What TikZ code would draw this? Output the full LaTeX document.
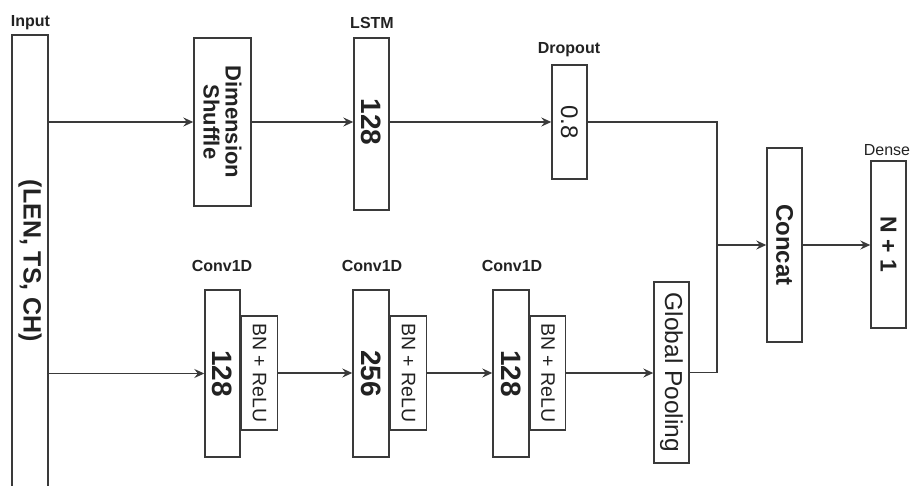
\documentclass[tikz,border=0pt]{standalone}
\usepackage{fontspec}
\setmainfont{Liberation Sans}
\usetikzlibrary{arrows.meta}
\definecolor{ln}{HTML}{3A3A3A}
\definecolor{tx}{HTML}{222222}
\begin{document}
\begin{tikzpicture}[x=1pt,y=-1pt,
  box/.style={draw=ln,line width=1.4pt,fill=white,inner sep=0pt,text=tx},
  lbl/.style={font=\fontsize{16}{18}\selectfont\bfseries,text=tx,inner sep=0pt},
  arr/.style={draw=ln,line width=1.4pt,-{Stealth[length=10pt,width=9pt,inset=3.5pt]}},
  ln/.style={draw=ln,line width=1.4pt},
  rt/.style={rotate=-90,align=center}]
\useasboundingbox (0,0) rectangle (912,486);
% boxes
\node[box,minimum width=36pt,minimum height=455pt] (inp) at (30,262.5) {};
\node[rt,text=tx,font=\fontsize{25}{28}\selectfont\bfseries] (inptx) at (30,261) {(LEN, TS, CH)};
\node[box,minimum width=57pt,minimum height=168pt] (ds) at (222.5,122) {};
\node[rt,text=tx,font=\fontsize{22}{22}\selectfont\bfseries] (dstx) at (222.5,122) {Dimension\\Shuffle};
\node[box,minimum width=35pt,minimum height=172pt] (lstm) at (371.5,124) {};
\node[rt,text=tx,font=\fontsize{28}{30}\selectfont\bfseries] (lstmtx) at (371.5,122) {128};
\node[box,minimum width=35pt,minimum height=114pt] (drop) at (569.5,122) {};
\node[rt,text=tx,font=\fontsize{24}{26}\selectfont] (droptx) at (569.5,122) {0.8};
\node[box,minimum width=35pt,minimum height=194pt] (concat) at (784.5,245) {};
\node[rt,text=tx,font=\fontsize{24}{26}\selectfont\bfseries] (concattx) at (784.5,245) {Concat};
\node[box,minimum width=35pt,minimum height=167pt] (dense) at (888.5,244.5) {};
\node[rt,text=tx,font=\fontsize{23}{26}\selectfont\bfseries] (densetx) at (888.5,244.5) {N + 1};
% conv blocks
\node[box,minimum width=35pt,minimum height=167pt] (c1) at (222.5,373.5) {};
\node[rt,text=tx,font=\fontsize{28}{30}\selectfont\bfseries] (c1tx) at (222.5,373.5) {128};
\node[box,minimum width=36pt,minimum height=114pt,anchor=west] (bn1) at (c1.east |- 0,373) {};
\node[rt,text=tx,font=\fontsize{19.5}{22}\selectfont] (bn1tx) at (bn1.center) {BN + ReLU};
\node[box,minimum width=36pt,minimum height=167pt] (c2) at (371,373.5) {};
\node[rt,text=tx,font=\fontsize{28}{30}\selectfont\bfseries] (c2tx) at (371,373.5) {256};
\node[box,minimum width=36pt,minimum height=114pt,anchor=west] (bn2) at (c2.east |- 0,373) {};
\node[rt,text=tx,font=\fontsize{19.5}{22}\selectfont] (bn2tx) at (bn2.center) {BN + ReLU};
\node[box,minimum width=36pt,minimum height=167pt] (c3) at (511,373.5) {};
\node[rt,text=tx,font=\fontsize{28}{30}\selectfont\bfseries] (c3tx) at (511,373.5) {128};
\node[box,minimum width=35pt,minimum height=114pt,anchor=west] (bn3) at (c3.east |- 0,373) {};
\node[rt,text=tx,font=\fontsize{19.5}{22}\selectfont] (bn3tx) at (bn3.center) {BN + ReLU};
\node[box,minimum width=35pt,minimum height=181pt] (gp) at (671.5,372.5) {};
\node[rt,text=tx,font=\fontsize{24.5}{26}\selectfont] (gptx) at (671.5,372.5) {Global Pooling};
% labels
\node[lbl] (linp) at (30.5,23) {Input};
\node[lbl] (llstm) at (372,23) {LSTM};
\node[lbl] (ldrop) at (569,50) {Dropout};
\node[lbl] (lc1) at (222,266) {Conv1D};
\node[lbl] (lc2) at (372,266) {Conv1D};
\node[lbl] (lc3) at (512,266) {Conv1D};
\node[lbl,font=\fontsize{16}{18}\selectfont] (ldense) at (887,150) {Dense};
% connectors
\coordinate (j) at (717,245);
\draw[arr] (inp.east |- ds.west) -- (ds.west);
\draw[arr] (inp.east |- c1.west) -- (c1.west);
\draw[arr] (ds.east) -- (lstm.west |- ds.east);
\draw[arr] (lstm.east |- ds.east) -- (drop.west);
\draw[ln] (drop.east) -| (j) |- (gp.east);
\draw[arr] (j) -- (concat.west);
\draw[arr] (concat.east) -- (dense.west |- concat.east);
\draw[arr] (bn1.east) -- (c2.west |- bn1.east);
\draw[arr] (bn2.east) -- (c3.west |- bn2.east);
\draw[arr] (bn3.east) -- (gp.west |- bn3.east);
\end{tikzpicture}
\end{document}
